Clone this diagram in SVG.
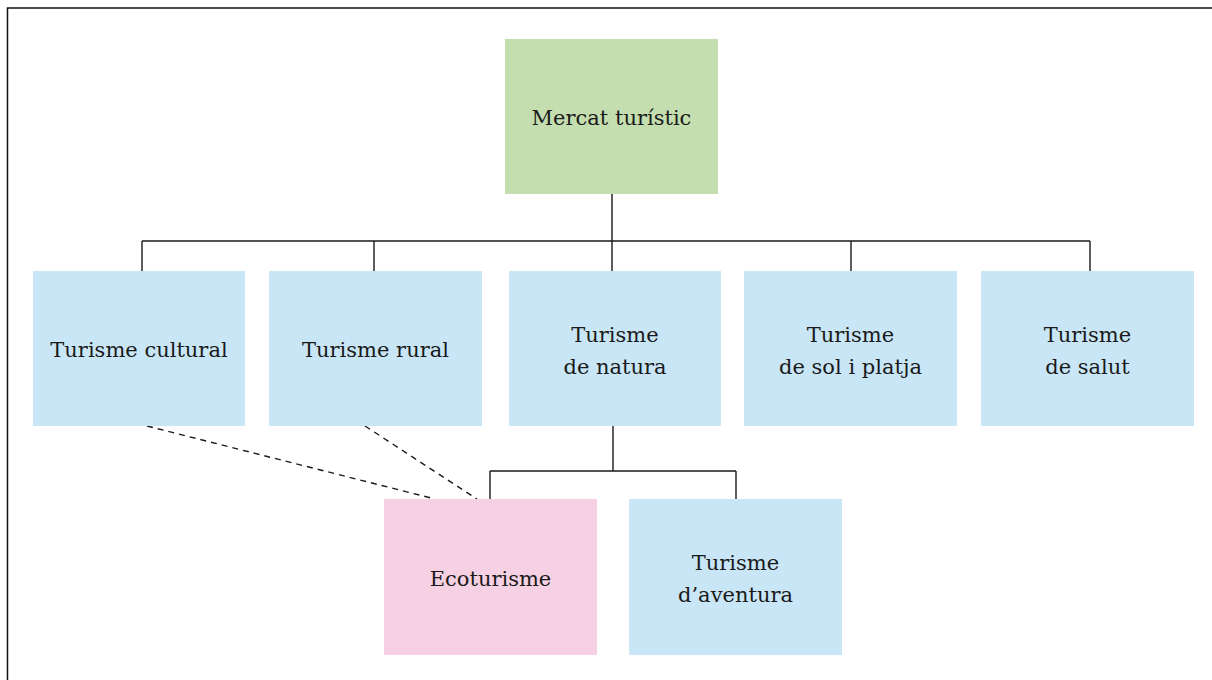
<svg xmlns="http://www.w3.org/2000/svg" width="1212" height="680" viewBox="0 0 1212 680">
<style>
.t{font-family:"DejaVu Serif","Liberation Serif",serif;font-size:21px;fill:#1a1a1a;text-anchor:middle;dominant-baseline:central}
.b{fill:#c9e6f6}
.c{stroke:#1a1a1a;stroke-width:1.4;fill:none}
.d{stroke:#1a1a1a;stroke-width:1.4;fill:none;stroke-dasharray:6 5}
</style>
<rect width="1212" height="680" fill="#fff"/>
<path d="M7.5 680 V8 H1212" fill="none" stroke="#111" stroke-width="1.5"/>
<g id="connectors">
<path class="c" d="M612 194 V241 M142 241 H1090 M142 241 V271 M374 241 V271 M612 241 V271 M851 241 V271 M1090 241 V271"/>
<path class="c" d="M613 426 V471 M490 471 H736 M490 471 V499 M736 471 V499"/>
<path class="d" d="M147 426 L435 499 M365 426 L477 499"/>
</g>
<g id="mercat"><rect x="505" y="39" width="213" height="155" fill="#c5deb0"/><text class="t" x="611.5" y="118">Mercat turístic</text></g>
<g id="cultural"><rect class="b" x="33" y="271" width="212" height="155"/><text class="t" x="139" y="350">Turisme cultural</text></g>
<g id="rural"><rect class="b" x="269" y="271" width="213" height="155"/><text class="t" x="375.5" y="350">Turisme rural</text></g>
<g id="natura"><rect class="b" x="509" y="271" width="212" height="155"/><text class="t" x="615" y="335">Turisme</text><text class="t" x="615" y="367">de natura</text></g>
<g id="sol"><rect class="b" x="744" y="271" width="213" height="155"/><text class="t" x="850.5" y="335">Turisme</text><text class="t" x="850.5" y="367">de sol i platja</text></g>
<g id="salut"><rect class="b" x="981" y="271" width="213" height="155"/><text class="t" x="1087.5" y="335">Turisme</text><text class="t" x="1087.5" y="367">de salut</text></g>
<g id="ecoturisme"><rect x="384" y="499" width="213" height="156" fill="#f6d1e3"/><text class="t" x="490.5" y="579">Ecoturisme</text></g>
<g id="aventura"><rect class="b" x="629" y="499" width="213" height="156"/><text class="t" x="735.5" y="563">Turisme</text><text class="t" x="735.5" y="595">d’aventura</text></g>
</svg>
